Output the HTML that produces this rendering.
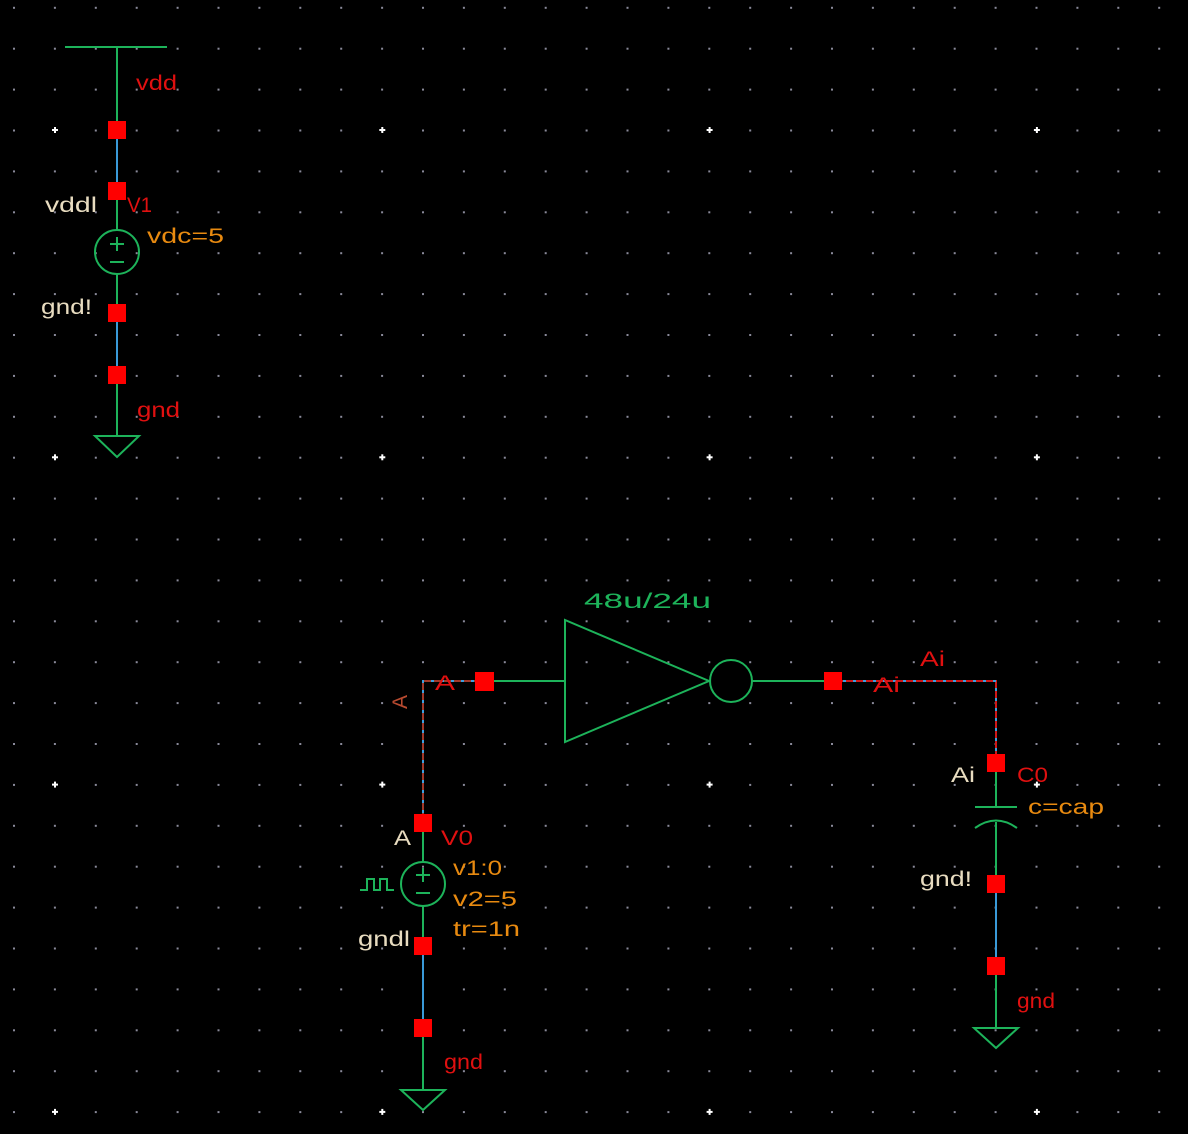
<!DOCTYPE html>
<html><head><style>
html,body{margin:0;padding:0;background:#000;width:1188px;height:1134px;overflow:hidden}
svg{display:block}
text{font-family:"Liberation Sans",sans-serif;font-size:21px}
</style></head><body>
<svg width="1188" height="1134" viewBox="0 0 1188 1134" xmlns="http://www.w3.org/2000/svg">
<defs>
<pattern id="g" x="13" y="6.8" width="40.9" height="40.9" patternUnits="userSpaceOnUse">
<rect x="0" y="0" width="2" height="2" fill="#8a8a9a"/>
</pattern>
<pattern id="G" x="51" y="126" width="327.3" height="327.3" patternUnits="userSpaceOnUse">
<path d="M4 1v6M1 4h6" stroke="#fff" stroke-width="2"/>
</pattern>
</defs>
<rect width="1188" height="1134" fill="#000"/>
<rect width="1188" height="1134" fill="url(#g)"/>
<rect width="1188" height="1134" fill="url(#G)"/>

<g fill="none" stroke-width="2">
<path d="M65 47H167M117 47V130M117 191V230M117 274V313M117 375V436M95 436H139L117 457Z" stroke="#1db35a"/>
<circle cx="117" cy="252" r="22" stroke="#1db35a"/>
<path d="M110 244H124M117 237V251M110 262H124" stroke="#1db35a"/>
<path d="M117 130V191M117 313V375" stroke="#3a9ad8"/>

<path d="M493 681H565M565 620V742L709 681ZM565 620L709 681M752 681H833" stroke="#1db35a"/>
<circle cx="731" cy="681" r="21" stroke="#1db35a"/>

<path d="M484 681H423V823" stroke="#a0392a"/>
<path d="M484 681H423V823" stroke="#3aa0e0" stroke-dasharray="3 7"/>
<path d="M423 823V862M423 906V946M423 1028V1090M401 1090H445L423 1110Z" stroke="#1db35a"/>
<circle cx="423" cy="884" r="22" stroke="#1db35a"/>
<path d="M416 875H430M423 868V882M416 893H430" stroke="#1db35a"/>
<path d="M360 890H367V879H374V890H380V879H387V890H394" stroke="#1db35a"/>
<path d="M423 946V1028" stroke="#3a9ad8"/>

<path d="M833 681H996V762" stroke="#d01818"/>
<path d="M833 681H996V762" stroke="#3aa0e0" stroke-dasharray="3 7"/>
<path d="M996 762V807M975 807H1017M996 822V1028M975 828Q996 813 1017 828M974 1028H1018L996 1048Z" stroke="#1db35a"/>
<path d="M996 884V966" stroke="#3a9ad8"/>
</g>

<g fill="#f00">
<rect x="108" y="121" width="18" height="18"/>
<rect x="108" y="182" width="18" height="18"/>
<rect x="108" y="304" width="18" height="18"/>
<rect x="108" y="366" width="18" height="18"/>
<rect x="475" y="672" width="19" height="19"/>
<rect x="414" y="814" width="18" height="18"/>
<rect x="414" y="937" width="18" height="18"/>
<rect x="414" y="1019" width="18" height="18"/>
<rect x="824" y="672" width="18" height="18"/>
<rect x="987" y="754" width="18" height="18"/>
<rect x="987" y="875" width="18" height="18"/>
<rect x="987" y="957" width="18" height="18"/>
</g>

<g lengthAdjust="spacingAndGlyphs">
<text x="136" y="90" fill="#e01010" textLength="41" lengthAdjust="spacingAndGlyphs">vdd</text>
<text x="45" y="212" fill="#e8dcc0" textLength="52" lengthAdjust="spacingAndGlyphs">vddl</text>
<text x="127" y="212" fill="#e01010" textLength="25" lengthAdjust="spacingAndGlyphs">V1</text>
<text x="147" y="243" fill="#e88a10" textLength="77" lengthAdjust="spacingAndGlyphs">vdc=5</text>
<text x="41" y="314" fill="#e8dcc0" textLength="51" lengthAdjust="spacingAndGlyphs">gnd!</text>
<text x="137" y="417" fill="#e01010" textLength="43" lengthAdjust="spacingAndGlyphs">gnd</text>

<text x="584" y="608" fill="#1db35a" font-size="22" textLength="127" lengthAdjust="spacingAndGlyphs">48u/24u</text>
<text x="435" y="690" fill="#e01010" textLength="20" lengthAdjust="spacingAndGlyphs">A</text>
<text x="400" y="702" fill="#b84a30" transform="rotate(-90 400 702)" font-size="18" text-anchor="middle" dy="7">A</text>
<text x="394" y="845" fill="#e8dcc0" textLength="17" lengthAdjust="spacingAndGlyphs">A</text>
<text x="441" y="845" fill="#e01010" textLength="32" lengthAdjust="spacingAndGlyphs">V0</text>
<text x="453" y="875" fill="#e88a10" textLength="49" lengthAdjust="spacingAndGlyphs">v1:0</text>
<text x="453" y="906" fill="#e88a10" textLength="64" lengthAdjust="spacingAndGlyphs">v2=5</text>
<text x="453" y="936" fill="#e88a10" textLength="67" lengthAdjust="spacingAndGlyphs">tr=1n</text>
<text x="358" y="946" fill="#e8dcc0" textLength="52" lengthAdjust="spacingAndGlyphs">gndl</text>
<text x="444" y="1069" fill="#e01010" textLength="39" lengthAdjust="spacingAndGlyphs">gnd</text>

<text x="920" y="666" fill="#e01010" textLength="25" lengthAdjust="spacingAndGlyphs">Ai</text>
<text x="873" y="692" fill="#e01010" textLength="27" lengthAdjust="spacingAndGlyphs">Ai</text>
<text x="951" y="782" fill="#e8dcc0" textLength="24" lengthAdjust="spacingAndGlyphs">Ai</text>
<text x="1017" y="782" fill="#e01010" textLength="31" lengthAdjust="spacingAndGlyphs">C0</text>
<text x="1028" y="814" fill="#e88a10" textLength="76" lengthAdjust="spacingAndGlyphs">c=cap</text>
<text x="920" y="886" fill="#e8dcc0" textLength="52" lengthAdjust="spacingAndGlyphs">gnd!</text>
<text x="1017" y="1008" fill="#e01010" textLength="38" lengthAdjust="spacingAndGlyphs">gnd</text>
</g>
</svg>
</body></html>
